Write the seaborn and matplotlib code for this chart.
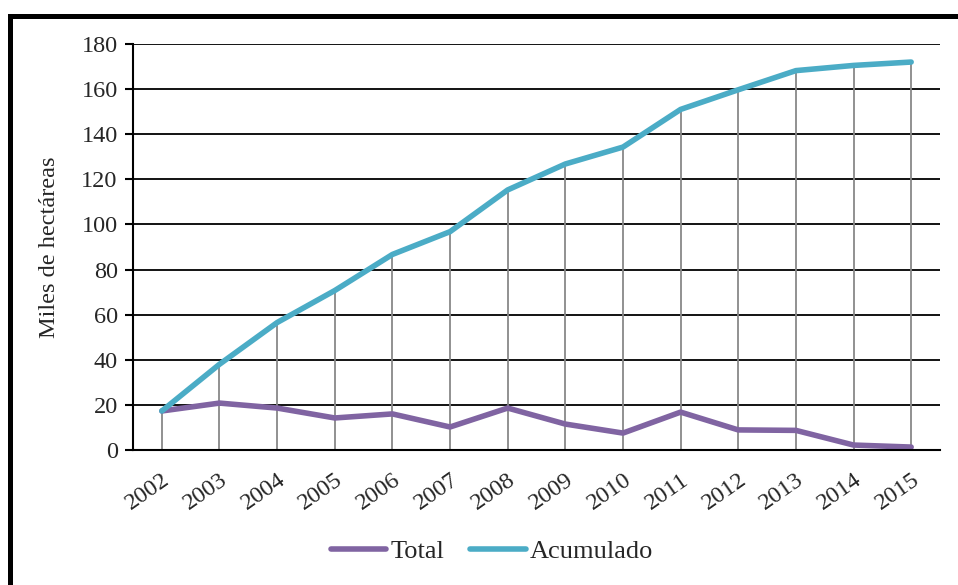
import matplotlib
matplotlib.use("Agg")
import matplotlib.pyplot as plt
import seaborn as sns
import pandas as pd
import numpy as np
from matplotlib.patches import Rectangle

years = ["2002", "2003", "2004", "2005", "2006", "2007", "2008",
         "2009", "2010", "2011", "2012", "2013", "2014", "2015"]
total = [17.3, 20.8, 18.6, 14.2, 16.0, 10.2, 18.6, 11.5, 7.5, 16.8, 8.9, 8.7, 2.2, 1.3]
acumulado = [17.3, 38.0, 56.5, 70.7, 86.7, 96.8, 115.3, 126.8, 134.3, 151.0, 159.7, 168.2, 170.5, 172.0]
series_names = ["Total", "Acumulado"]
y_ticks = [0, 20, 40, 60, 80, 100, 120, 140, 160, 180]
ylabel = "Miles de hectáreas"

sns.set_theme(style="white")
plt.rcParams["font.family"] = ["Liberation Serif", "DejaVu Serif"]

df = pd.DataFrame({
    "pos": list(range(len(years))) * 2,
    "value": total + acumulado,
    "serie": [series_names[0]] * len(years) + [series_names[1]] * len(years),
})

fig = plt.figure(figsize=(9.58, 5.85), dpi=100)
ax = fig.add_axes([133 / 958, 1 - 450 / 585, (940 - 133) / 958, (450 - 44) / 585])

# drop lines
xs = np.arange(len(years))
tops = np.maximum(total, acumulado)
ax.vlines(xs, 0, tops, colors="#888888", linewidth=1.3, zorder=2)

for yv in y_ticks[1:]:
    ax.axhline(yv, color="black", linewidth=1.3, zorder=1)

sns.lineplot(data=df, x="pos", y="value", hue="serie",
             palette={"Total": "#8064A2", "Acumulado": "#4BACC6"},
             linewidth=4.0, ax=ax, zorder=3, legend=True)
for ln in ax.lines:
    ln.set_solid_capstyle("round")

ax.set_xlim(-0.5, len(years) - 0.5)
ax.set_ylim(0, 180)
ax.set_yticks(y_ticks)
ax.set_yticklabels([str(v) for v in y_ticks], fontsize=17.5)
ax.set_xticks(xs)
ax.set_xticklabels(years, fontsize=17.5, rotation=35, ha="right", rotation_mode="anchor")
ax.set_xticks(np.arange(-0.5, len(years)), minor=True)
ax.tick_params(axis="x", which="major", length=0, pad=14)
ax.tick_params(axis="x", which="minor", length=6, width=1.5, color="black", direction="out")
ax.tick_params(axis="y", which="major", length=6, width=1.5, color="black", direction="out", pad=5)
ax.xaxis.set_tick_params(bottom=True)
ax.yaxis.set_tick_params(left=True)

for s in ["top", "right"]:
    ax.spines[s].set_visible(False)
for s in ["left", "bottom"]:
    ax.spines[s].set_color("black")
    ax.spines[s].set_linewidth(1.5)
    ax.spines[s].set_zorder(4)

ax.set_xlabel("")
ax.set_ylabel(ylabel, fontsize=17.5)
ax.yaxis.set_label_coords(-0.09, 0.5)

h, l = ax.get_legend_handles_labels()
if ax.legend_:
    ax.legend_.remove()
for hh in h:
    hh.set_linewidth(4.0)
    hh.set_solid_capstyle("round")
fig.legend(h, l, loc="center", bbox_to_anchor=(492 / 958, 1 - 551 / 585),
           ncol=2, frameon=False, fontsize=19, handlelength=2.1,
           handletextpad=0.15, columnspacing=1.0)

# outer frame
fig.patches.append(Rectangle((9.5 / 958, -0.1), 1.2, (1 - 15.5 / 585) + 0.1,
                             transform=fig.transFigure, fill=False,
                             edgecolor="black", linewidth=3.6, zorder=10))

fig.savefig("out.png", dpi=100)
